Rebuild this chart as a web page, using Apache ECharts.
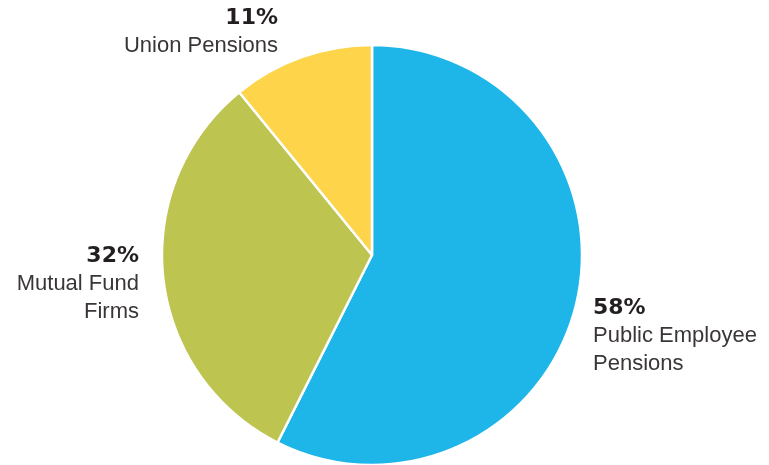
<!DOCTYPE html>
<html>
<head>
<meta charset="utf-8">
<script src="https://cdn.jsdelivr.net/npm/echarts@6/dist/echarts.min.js"></script>
<style>
  html, body { margin: 0; padding: 0; background: #ffffff; }
  #chart { width: 769px; height: 465px; }
</style>
</head>
<body>
<div id="chart"></div>
<script>
// Share of assets by investor type
const categories = ['Public Employee Pensions', 'Mutual Fund Firms', 'Union Pensions'];
const labelText = [['Public Employee', 'Pensions'], ['Mutual Fund', 'Firms'], ['Union Pensions']];
const values = [58, 32, 11];
const colors = ['#1EB6E9', '#BDC44F', '#FDD44A'];

// label anchor per slice: [x, y, horizontal align]
const labelAnchors = [[593, 294, 'left'], [139, 242, 'right'], [278, 4, 'right']];

const regularFont = '"Liberation Sans", Arial, sans-serif';
const boldFont = '"DejaVu Sans", "Liberation Sans", sans-serif';

const chart = echarts.init(document.getElementById('chart'), null, { renderer: 'canvas' });

chart.setOption({
  animation: false,
  backgroundColor: '#ffffff',
  series: [{
    type: 'pie',
    center: [372, 255],
    radius: [0, 210],
    startAngle: 90,
    clockwise: true,
    data: categories.map((c, i) => ({
      name: c,
      value: values[i],
      itemStyle: { color: colors[i] }
    })),
    itemStyle: { borderColor: '#ffffff', borderWidth: 2.5 },
    label: {
      show: true,
      position: 'outside',
      overflow: 'none',
      width: 220,
      fontFamily: regularFont,
      formatter: p => '{b|' + values[p.dataIndex] + '%}\n' +
        labelText[p.dataIndex].map(t => '{n|' + t + '}').join('\n'),
      rich: {
        b: { fontSize: 22, fontWeight: 'bold', color: '#231F20', lineHeight: 28,
             fontFamily: boldFont },
        n: { fontSize: 22, color: '#3a3637', lineHeight: 28,
             fontFamily: regularFont }
      }
    },
    labelLine: { show: false },
    labelLayout: p => {
      const a = labelAnchors[p.dataIndex];
      return { x: a[0], y: a[1], align: a[2], verticalAlign: 'top' };
    },
    emphasis: { disabled: true }
  }]
});
</script>
</body>
</html>
